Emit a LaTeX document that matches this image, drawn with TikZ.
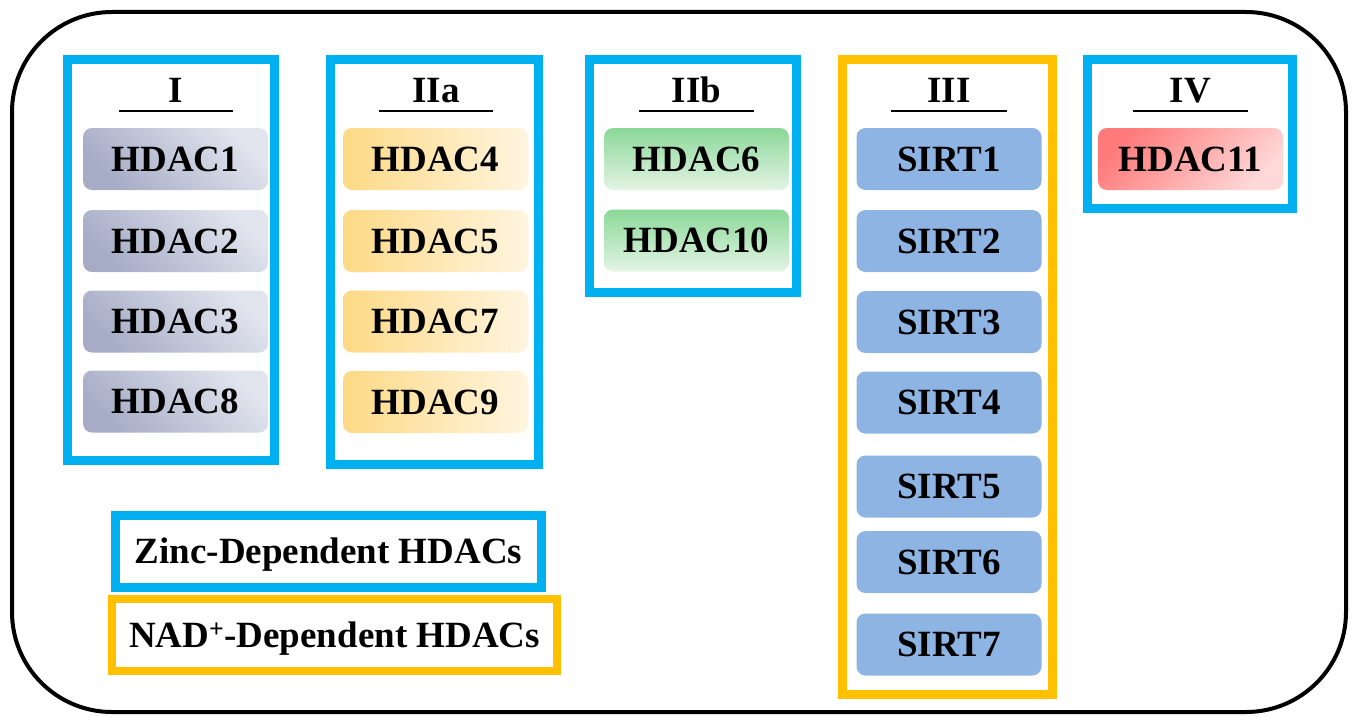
\documentclass[tikz,border=0pt]{standalone}
\usepackage{fontspec}
\setmainfont{Liberation Serif}
\usepackage{tikz}
\definecolor{zincblue}{HTML}{00B0F0}
\definecolor{nadorange}{HTML}{FFC000}
\definecolor{sirtblue}{HTML}{8EB4E3}
\definecolor{greyD}{HTML}{A6ACC6}
\definecolor{greyL}{HTML}{E2E5EE}
\definecolor{orangeD}{HTML}{FDD985}
\definecolor{orangeL}{HTML}{FFF5E0}
\definecolor{greenD}{HTML}{8BD898}
\definecolor{greenL}{HTML}{E3F4E5}
\definecolor{redD}{HTML}{FF7A7A}
\definecolor{redL}{HTML}{FFD8D8}
\newcommand{\hfont}{\fontsize{37}{40}\selectfont\bfseries}
\tikzset{
  hdac/.style={rounded corners=9pt, minimum width=185pt, minimum height=62pt,
    inner sep=0pt, text height=24pt, text depth=0pt, font=\hfont},
  clsI/.style={hdac, left color=greyD, right color=greyL, shading angle=135},
  clsIIa/.style={hdac, left color=orangeD, right color=orangeL},
  clsIIb/.style={hdac, top color=greenD, bottom color=greenL},
  clsIII/.style={hdac, fill=sirtblue},
  clsIV/.style={hdac, left color=redD, right color=redL, shading angle=45},
  zincbox/.style={draw=zincblue, line width=9pt},
  nadbox/.style={draw=nadorange, line width=9pt},
  title/.style={anchor=base, font=\hfont},
  uline/.style={line width=2pt}
}

\begin{document}
\begin{tikzpicture}[x=1pt,y=-1pt]
\useasboundingbox (0,0) rectangle (1354,717);
\draw[line width=4pt, rounded corners=100pt] (12,12) rectangle (1346,712);
%class I
\draw[zincbox] (67,60) rectangle (274,460);
\node[title] (tI) at (176,102) {I};
\draw[uline] (119,111) -- (233,111);
\node[clsI] (hdac1) at (175.5,159) {HDAC1};
\node[clsI] (hdac2) at (175.5,241) {HDAC2};
\node[clsI] (hdac3) at (175.5,321.5) {HDAC3};
\node[clsI] (hdac8) at (175.5,401.5) {HDAC8};
%class IIa
\draw[zincbox] (330,60) rectangle (538,464);
\node[title] (tIIa) at (436,102) {IIa};
\draw[uline] (379,111) -- (493,111);
\node[clsIIa] (hdac4) at (435.5,159) {HDAC4};
\node[clsIIa] (hdac5) at (435.5,241) {HDAC5};
\node[clsIIa] (hdac7) at (435.5,321.5) {HDAC7};
\node[clsIIa] (hdac9) at (435.5,402) {HDAC9};
%class IIb
\draw[zincbox] (589.5,60) rectangle (796.5,292.5);
\node[title] (tIIb) at (696.5,102) {IIb};
\draw[uline] (639,111) -- (754,111);
\node[clsIIb] (hdac6) at (696.5,159) {HDAC6};
\node[clsIIb] (hdac10) at (696.5,240.5) {HDAC10};
%class III (sirtuins)
\draw[nadbox] (842.5,60) rectangle (1052.5,694);
\node[title] (tIII) at (949,102) {III};
\draw[uline] (891,111) -- (1007,111);
\node[clsIII] (sirt1) at (949,159) {SIRT1};
\node[clsIII] (sirt2) at (949,241) {SIRT2};
\node[clsIII] (sirt3) at (949,322) {SIRT3};
\node[clsIII] (sirt4) at (949,402.5) {SIRT4};
\node[clsIII] (sirt5) at (949,486.5) {SIRT5};
\node[clsIII] (sirt6) at (949,562) {SIRT6};
\node[clsIII] (sirt7) at (949,644.5) {SIRT7};
%class IV
\draw[zincbox] (1087.5,60) rectangle (1292.5,208);
\node[title] (tIV) at (1190.5,102) {IV};
\draw[uline] (1133,111) -- (1248,111);
\node[clsIV] (hdac11) at (1190.5,159) {HDAC11};
%legend
\node[zincbox, minimum width=426pt, minimum height=72pt, inner sep=0pt,
  text height=24pt, text depth=0pt, font=\hfont] (zinc) at (328.5,551) {Zinc-Dependent HDACs};
\node[nadbox, line width=8pt, minimum width=445pt, minimum height=72pt, inner sep=0pt,
  text height=24pt, text depth=0pt, font=\hfont] (nad) at (334.5,635) {NAD\textsuperscript{+}-Dependent HDACs};
\end{tikzpicture}
\end{document}
